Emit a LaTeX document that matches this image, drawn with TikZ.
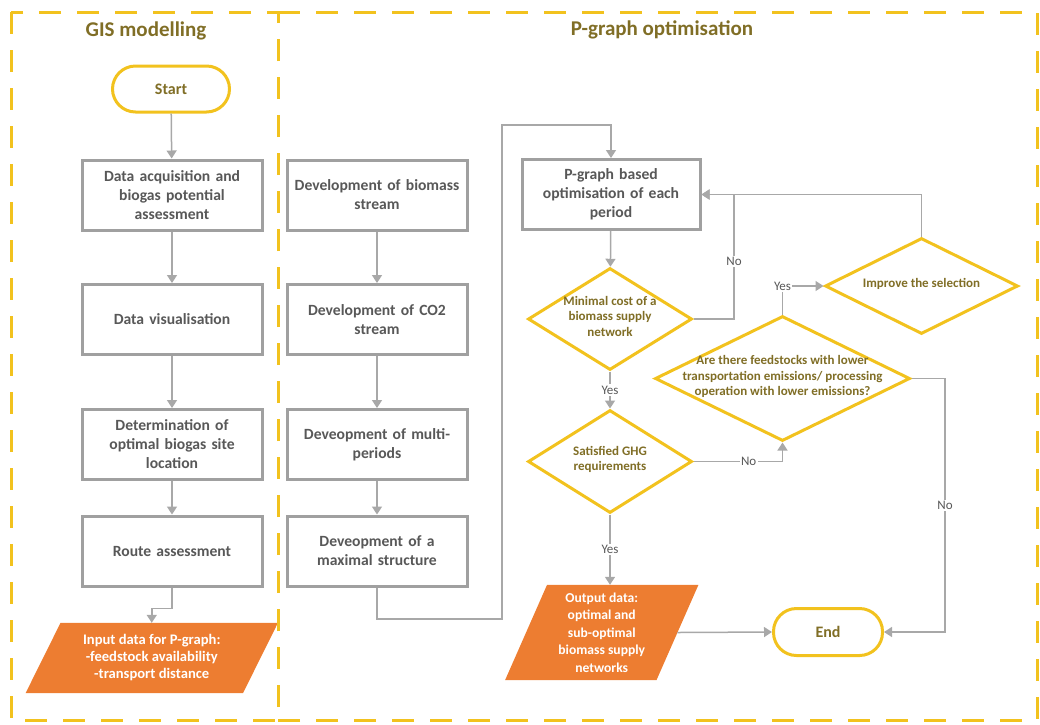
\documentclass[tikz,border=0pt]{standalone}
\usepackage{fontspec}
\setmainfont{Carlito}
\usetikzlibrary{shapes.geometric,arrows.meta,backgrounds}
\definecolor{gold}{RGB}{242,194,30}
\definecolor{olive}{RGB}{128,110,38}
\definecolor{boxgray}{RGB}{160,160,160}
\definecolor{txtgray}{RGB}{88,88,88}
\definecolor{linegray}{RGB}{168,168,168}
\definecolor{orng}{RGB}{237,125,49}
\newcommand\dtext[1]{\raisebox{-0.25em}{\smash{\makebox[0pt]{\begin{tabular}{@{}c@{}}#1\end{tabular}}}}}
\tikzset{
  frame/.style={draw=gold, line width=3pt, dash pattern=on 22pt off 16pt},
  ttl/.style={text=olive, font=\fontsize{21}{25}\selectfont\bfseries},
  stepbox/.style={draw=boxgray, line width=3pt, fill=white, minimum width=180pt, minimum height=70pt,
    text width=178pt, align=center, inner sep=0pt, text=txtgray, font=\fontsize{15.6}{19}\selectfont\bfseries},
  term/.style={draw=gold, line width=3pt, fill=white, rounded corners=23pt, minimum height=46pt,
    text=olive, font=\fontsize{16}{19}\selectfont\bfseries},
  dec/.style={diamond, draw=gold, line width=3pt, fill=white, inner sep=0pt, text=olive,
    font=\fontsize{13}{15.5}\selectfont\bfseries},
  iodata/.style={minimum width=#1, inner sep=0pt, align=center, text=white},
  conn/.style={draw=linegray, line width=1.5pt},
  arr/.style={conn, -{Triangle[length=8pt,width=10pt]}},
  lbl/.style={fill=white, inner sep=1.5pt, text=txtgray, font=\fontsize{13}{15}\selectfont},
}
\begin{document}
\begin{tikzpicture}[x=1pt,y=-1pt]
\useasboundingbox (0,0) rectangle (1040,724);
% frames
\draw[frame] (11,12) rectangle (278,720);
\draw[frame] (278,12) -- (1037,12) -- (1037,720) -- (278,720);
\node[ttl] (t1) at (146,31) {GIS modelling};
\node[ttl] (t2) at (662,30) {P-graph optimisation};
% left column
\node[term, minimum width=117pt] (start) at (171,89) {Start};
\node[stepbox] (b1) at (172,195) {Data acquisition and\\biogas potential\\assessment};
\node[stepbox] (b2) at (172,319.5) {Data visualisation};
\node[stepbox] (b3) at (172,444.5) {Determination of\\optimal biogas site\\location};
\node[stepbox] (b4) at (172,551) {Route assessment};
\node[iodata=217pt, minimum height=70pt, font=\fontsize{14.6}{17}\selectfont\bfseries] (inp) at (151.75,658) {Input data for P-graph:\\-feedstock availability\\-transport distance};
% middle column
\node[stepbox] (m1) at (377,195) {Development of biomass\\stream};
\node[stepbox] (m2) at (377,319.5) {Development of CO2\\stream};
\node[stepbox] (m3) at (377,444.5) {Deveopment of multi-\\periods};
\node[stepbox] (m4) at (377,551) {Deveopment of a\\maximal structure};
% right part
\node[stepbox, minimum width=178pt] (pg) at (611,194.5) {P-graph based\\optimisation of each\\period};
\node[dec, minimum width=164pt, minimum height=102pt] (min) at (610,319) {\dtext{Minimal cost of a\\biomass supply\\network}};
\node[dec, minimum width=164pt, minimum height=103pt] (sat) at (610,461.5) {\dtext{Satisfied GHG\\requirements}};
\node[dec, minimum width=255pt, minimum height=125pt] (are) at (782.5,378.5) {\dtext{Are there feedstocks with lower\\transportation emissions/ processing\\operation with lower emissions?}};
\node[dec, minimum width=193pt, minimum height=96pt] (imp) at (921.5,286) {\dtext{Improve the selection}};
\node[iodata=151pt, minimum height=95pt, font=\fontsize{13.6}{17.5}\selectfont\bfseries] (out) at (601.75,632.5) {Output data:\\optimal and\\sub-optimal\\biomass supply\\networks};
\node[term, minimum width=109pt, minimum height=47pt] (end) at (828,632) {End};
% parallelogram backgrounds
\begin{scope}[on background layer]
\fill[orng] ([xshift=17.5pt]inp.north west) -- ([xshift=17.5pt]inp.north east) -- ([xshift=-17.5pt]inp.south east) -- ([xshift=-17.5pt]inp.south west) -- cycle;
\fill[orng] ([xshift=21pt]out.north west) -- ([xshift=21pt]out.north east) -- ([xshift=-21pt]out.south east) -- ([xshift=-21pt]out.south west) -- cycle;
\end{scope}
% connectors left
\draw[arr] (start) -- (b1);
\draw[arr] (b1) -- (b2);
\draw[arr] (b2) -- (b3);
\draw[arr] (b3) -- (b4);
\draw[arr] (b4.south) -- ++(0,21) -| (inp.north);
% connectors middle
\draw[arr] (m1) -- (m2);
\draw[arr] (m2) -- (m3);
\draw[arr] (m3) -- (m4);
\coordinate (c1) at (502,619);
\coordinate (c2) at (502,125);
\draw[arr] (m4.south) |- (c1) -- (c2) -| (pg.north);
% connectors right
\draw[arr] (pg) -- (min);
\coordinate (k1) at (734,319);
\draw[arr] (min.east) -- (k1) |- node[lbl, pos=0.23] {No} (pg.east);
\draw[arr] (imp.north) |- (pg.east);
\draw[arr] (min.south) -- node[lbl] {Yes} (sat.north);
\draw[arr] (sat.east) -| node[lbl, pos=0.31] {No} (are.south);
\draw[arr] (are.north) |- node[lbl] {Yes} (imp.west);
\coordinate (k2) at (945,378.5);
\draw[arr] (are.east) -- (k2) |- node[lbl, pos=0.25] {No} (end.east);
\draw[arr] (sat.south) -- node[lbl] {Yes} (sat.south |- out.north);
\draw[arr] (out.east) -- (end.west);
\end{tikzpicture}
\end{document}
